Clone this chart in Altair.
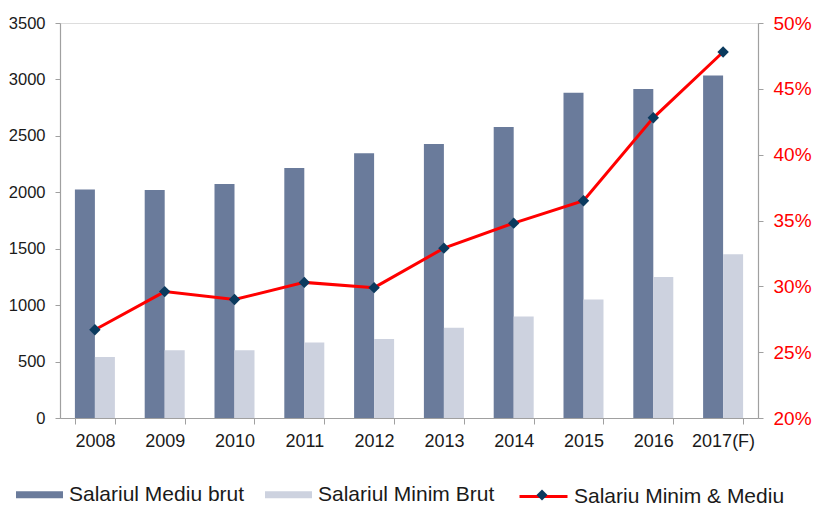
import altair as alt
import pandas as pd

# ---- data ----
years = ["2008", "2009", "2010", "2011", "2012", "2013", "2014", "2015", "2016", "2017(F)"]
salariul_mediu = [2024, 2020, 2074, 2215, 2345, 2428, 2578, 2883, 2915, 3034]
salariul_minim = [540, 600, 600, 670, 700, 800, 900, 1050, 1250, 1450]
raport_pct = [26.7, 29.6, 29.0, 30.3, 29.9, 32.9, 34.8, 36.5, 42.8, 47.8]

SER_MEDIU = "Salariul Mediu brut"
SER_MINIM = "Salariul Minim Brut"
SER_LINE = "Salariu Minim & Mediu"
MARKER = "marker"

left_ticks = [0, 500, 1000, 1500, 2000, 2500, 3000, 3500]
right_ticks = [20, 25, 30, 35, 40, 45, 50]

DARK = "#6A7B9B"
LIGHT = "#CDD2DF"
RED = "#FF0000"
NAVY = "#0B3A5E"
AXIS_GRAY = "#A0A0A0"
FONT = "Liberation Sans"

bars_df = pd.DataFrame({
    "year": years * 2,
    "series": [SER_MEDIU] * len(years) + [SER_MINIM] * len(years),
    "value": salariul_mediu + salariul_minim,
})
line_df = pd.DataFrame({
    "year": years,
    "pct": raport_pct,
    "series": [SER_LINE] * len(years),
    "series2": [MARKER] * len(years),
})

x_enc = alt.X(
    "year:N", sort=years, title=None,
    scale=alt.Scale(paddingInner=0.427, paddingOuter=0.2135),
    axis=alt.Axis(
        labelAngle=0, tickBand="extent", labelFontSize=18, labelColor="#1a1a1a",
        labelFont=FONT, domainColor=AXIS_GRAY, tickColor=AXIS_GRAY, tickSize=6,
        labelPadding=8, grid=False, domainWidth=1.2,
    ),
)

RECT_PATH = "M-1,-0.15L1,-0.15L1,0.15L-1,0.15Z"
LEG_Y = 448

bars = alt.Chart(bars_df).mark_bar().encode(
    x=x_enc,
    xOffset=alt.XOffset("series:N", sort=[SER_MEDIU, SER_MINIM],
                        scale=alt.Scale(paddingInner=0, paddingOuter=0)),
    y=alt.Y(
        "value:Q", title=None,
        scale=alt.Scale(domain=[0, 3500], nice=False),
        axis=alt.Axis(
            values=left_ticks, format="d", grid=False, labelFontSize=16.5,
            labelColor="#1a1a1a", labelFont=FONT, domainColor=AXIS_GRAY,
            tickColor=AXIS_GRAY, tickSize=5, labelPadding=10, domainWidth=1.2,
        ),
    ),
    color=alt.Color(
        "series:N", sort=[SER_MEDIU, SER_MINIM],
        scale=alt.Scale(domain=[SER_MEDIU, SER_MINIM], range=[DARK, LIGHT]),
        legend=alt.Legend(
            title=None, orient="none", direction="horizontal", legendX=-44, legendY=LEG_Y,
            symbolType=RECT_PATH, symbolSize=2209, symbolStrokeWidth=0, labelFontSize=21,
            labelFont=FONT, labelColor="#1a1a1a", labelOffset=6, columnPadding=20,
            padding=0, labelLimit=400,
        ),
    ),
)

line_base = alt.Chart(line_df).encode(
    x=x_enc,
    y=alt.Y(
        "pct:Q", title=None,
        scale=alt.Scale(domain=[20, 50], nice=False),
        axis=alt.Axis(
            orient="right", values=right_ticks, labelExpr="datum.value + '%'", grid=False,
            labelFontSize=19, labelColor=RED, labelFont=FONT, domainColor=AXIS_GRAY,
            tickColor=AXIS_GRAY, tickSize=5, labelPadding=10, domainWidth=1.2,
        ),
    ),
)

line = line_base.mark_line(strokeWidth=3).encode(
    stroke=alt.Stroke(
        "series:N",
        scale=alt.Scale(domain=[SER_LINE], range=[RED]),
        legend=alt.Legend(
            title=None, orient="none", legendX=458, legendY=LEG_Y, symbolType="stroke",
            symbolSize=2304, symbolStrokeWidth=3, labelFontSize=21, labelFont=FONT,
            labelColor="#1a1a1a", labelOffset=5, padding=0, labelLimit=400,
        ),
    ),
)

points = line_base.mark_point(shape="diamond", filled=True, size=130, opacity=1).encode(
    fill=alt.Fill(
        "series2:N",
        scale=alt.Scale(domain=[MARKER], range=[NAVY]),
        legend=alt.Legend(
            title=None, orient="none", legendX=476.5, legendY=LEG_Y + 18.5, symbolType="diamond",
            symbolSize=120, symbolStrokeWidth=0, symbolOpacity=1, labelExpr="''", padding=0,
        ),
    ),
)

chart = alt.layer(bars, alt.layer(line, points)).resolve_scale(
    y="independent", color="independent"
).properties(
    width=698, height=395,
    autosize=alt.AutoSizeParams(type="none"),
    padding={"left": 52, "top": 15, "right": 56, "bottom": 88},
).configure_view(stroke=None).configure(background="white")

chart.save("out.html", embed_options={"renderer": "svg", "actions": False})
